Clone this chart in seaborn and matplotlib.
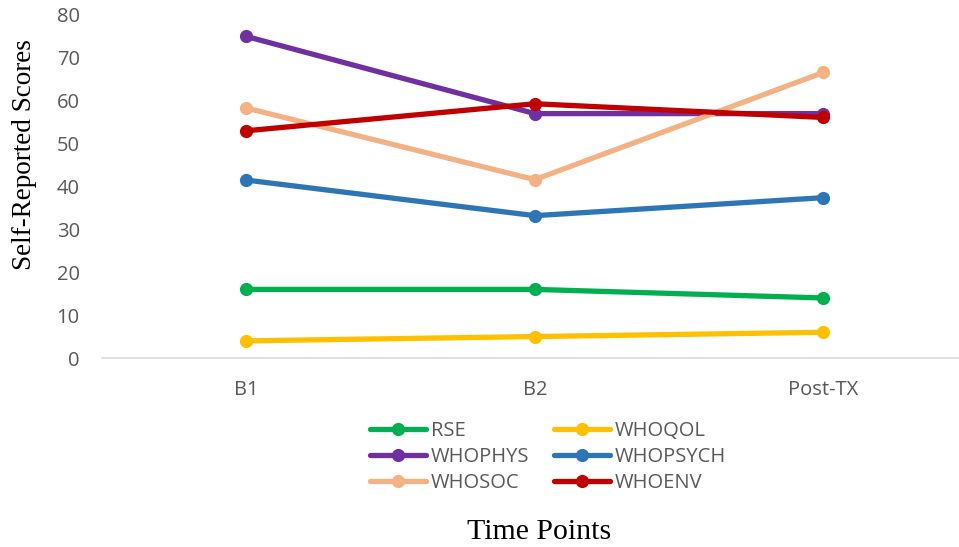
import matplotlib
matplotlib.use("Agg")
import matplotlib.pyplot as plt
import seaborn as sns
import pandas as pd

# Time points and scores per measure
time_points = ["B1", "B2", "Post-TX"]
rse = [16, 16, 14]
whoqol = [4, 5, 6]
whophys = [75, 57, 57]
whopsych = [41.5, 33.2, 37.4]
whosoc = [58.3, 41.6, 66.6]
whoenv = [53, 59.3, 56.1]

series_names = ["RSE", "WHOQOL", "WHOPHYS", "WHOPSYCH", "WHOSOC", "WHOENV"]
series_values = [rse, whoqol, whophys, whopsych, whosoc, whoenv]
colors = ["#00B050", "#FFC000", "#7030A0", "#2E75B6", "#F4B183", "#C00000"]

rows = []
for name, vals in zip(series_names, series_values):
    for tp, v in zip(time_points, vals):
        rows.append({"Time": tp, "Score": v, "Measure": name})
df = pd.DataFrame(rows)

sns.set_theme(style="white")
plt.rcParams["font.family"] = ["Open Sans", "DejaVu Sans"]

fig = plt.figure(figsize=(9.59, 5.47), dpi=100)
ax = fig.add_axes([102 / 959, 1 - 358 / 547, 1 - 102 / 959, (358 - 15) / 547])

sns.lineplot(
    data=df, x="Time", y="Score", hue="Measure", hue_order=series_names,
    palette=dict(zip(series_names, colors)), marker="o", markersize=9.5,
    markeredgewidth=0, linewidth=3.8, sort=False, ax=ax, legend=False,
)

ax.set_xlim(-0.5, 2.47)
ax.set_ylim(0, 80)
ax.set_yticks(range(0, 81, 10))
ax.set_xticks(range(len(time_points)))
ax.set_xticklabels(time_points)
ax.tick_params(axis="both", labelsize=14.5, labelcolor="#595959", length=0)
ax.tick_params(axis="x", pad=16)
ax.tick_params(axis="y", pad=16)

for side in ["top", "right", "left"]:
    ax.spines[side].set_visible(False)
ax.spines["bottom"].set_color("#D9D9D9")
ax.spines["bottom"].set_linewidth(1.2)

ax.set_xlabel("")
ax.set_ylabel("")
fig.text(25 / 959, 1 - 155 / 547, "Self-Reported Scores", rotation=90,
         ha="center", va="center", fontsize=19.5, family="Liberation Serif",
         color="black")
fig.text(539 / 959, 1 - 532 / 547, "Time Points", ha="center", va="center",
         fontsize=21.5, family="Liberation Serif", color="black")

# Legend laid out row-wise in two columns
handles = [
    plt.Line2D([], [], color=c, linewidth=3.8, marker="o", markersize=9.5,
               markeredgewidth=0)
    for c in colors
]
order = [0, 2, 4, 1, 3, 5]
leg = fig.legend(
    [handles[i] for i in order], [series_names[i] for i in order],
    ncol=2, loc="center", bbox_to_anchor=(548 / 959, 1 - 457 / 547),
    frameon=False, fontsize=14.5, handlelength=2.75, handletextpad=0.25,
    columnspacing=1.25, labelspacing=0.3,
)
for t in leg.get_texts():
    t.set_color("#595959")

fig.savefig("out.png", dpi=100)
